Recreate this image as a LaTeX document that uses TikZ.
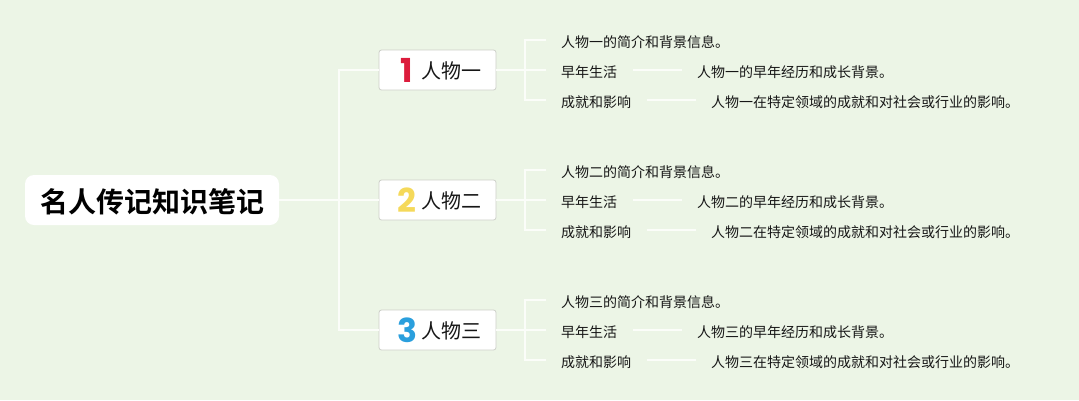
\documentclass[tikz,border=0pt]{standalone}
\usepackage{fontspec}
\setmainfont{Noto Sans CJK SC}[BoldFont={Noto Sans CJK SC Bold}]
\newfontfamily\digitfont{Poppins}[BoldFont={Poppins Bold}]
\definecolor{bgc}{HTML}{ECF5E6}
\definecolor{linec}{HTML}{FBFDF9}
\definecolor{bordc}{HTML}{CDD0C9}
\definecolor{txt}{HTML}{161616}
\definecolor{dred}{HTML}{DC1C3C}
\definecolor{dyel}{HTML}{F5D95A}
\definecolor{dblu}{HTML}{2A9FDD}
\newcommand\lowertext[1]{\raisebox{-1pt}[\dimexpr\height+1pt\relax][\dimexpr\depth-1pt\relax]{#1}}
\tikzset{
  x=1pt,y=-1pt,
  conn/.style={draw=linec,line width=1.5pt},
  rootbox/.style={fill=white,rounded corners=9pt,minimum width=254pt,minimum height=50pt,inner sep=0pt,font=\fontsize{28}{32}\selectfont\bfseries,text=black},
  topicbox/.style={fill=white,draw=bordc,line width=0.8pt,rounded corners=2.5pt,minimum width=117pt,minimum height=40pt,inner sep=0pt},
  toptext/.style={font=\fontsize{20}{24}\selectfont,text=txt,inner sep=0pt,anchor=west},
  digit/.style={font=\digitfont\bfseries\fontsize{33}{36}\selectfont,inner sep=0pt},
  leaf/.style={anchor=west,inner xsep=15.5pt,inner ysep=0pt,font=\fontsize{14}{18}\selectfont,text=txt},
}
\begin{document}
\begin{tikzpicture}
\useasboundingbox[fill=bgc] (0,0) rectangle (1079,400);
\node[rootbox] (root) at (152,200) {\lowertext{名人传记知识笔记}};
\coordinate (trunk) at (339,200);
\foreach \i/\yy/\nm/\num/\col in {a/70/一/1/dred,b/200/二/2/dyel,c/330/三/3/dblu}{
  \node[topicbox] (t\i) at (437.5,\yy) {};
  \node[digit,text=\col] (d\i) at (407,\yy) {\num};
  \node[toptext] (n\i) at (421,\yy+1) {人物\nm};
  \coordinate (j\i) at (525,\yy);
  \node[leaf] (l1\i) at (545.5,\yy-30) {\lowertext{人物\nm 的简介和背景信息。}};
  \node[leaf] (l2\i) at (545.5,\yy) {\lowertext{早年生活}};
  \node[leaf] (l3\i) at (545.5,\yy+30) {\lowertext{成就和影响}};
  \node[leaf] (m2\i) at (681.5,\yy) {\lowertext{人物\nm 的早年经历和成长背景。}};
  \node[leaf] (m3\i) at (695.5,\yy+30) {\lowertext{人物\nm 在特定领域的成就和对社会或行业的影响。}};
  \draw[conn] (trunk) |- (t\i.west);
  \draw[conn] (t\i.east) -- (l2\i.west);
  \draw[conn] (j\i) |- (l1\i.west);
  \draw[conn] (j\i) |- (l3\i.west);
  \draw[conn] (l2\i.east) -- (m2\i.west);
  \draw[conn] (l3\i.east) -- (m3\i.west);
}
\draw[conn] (root.east) -- (trunk);
\end{tikzpicture}
\end{document}
